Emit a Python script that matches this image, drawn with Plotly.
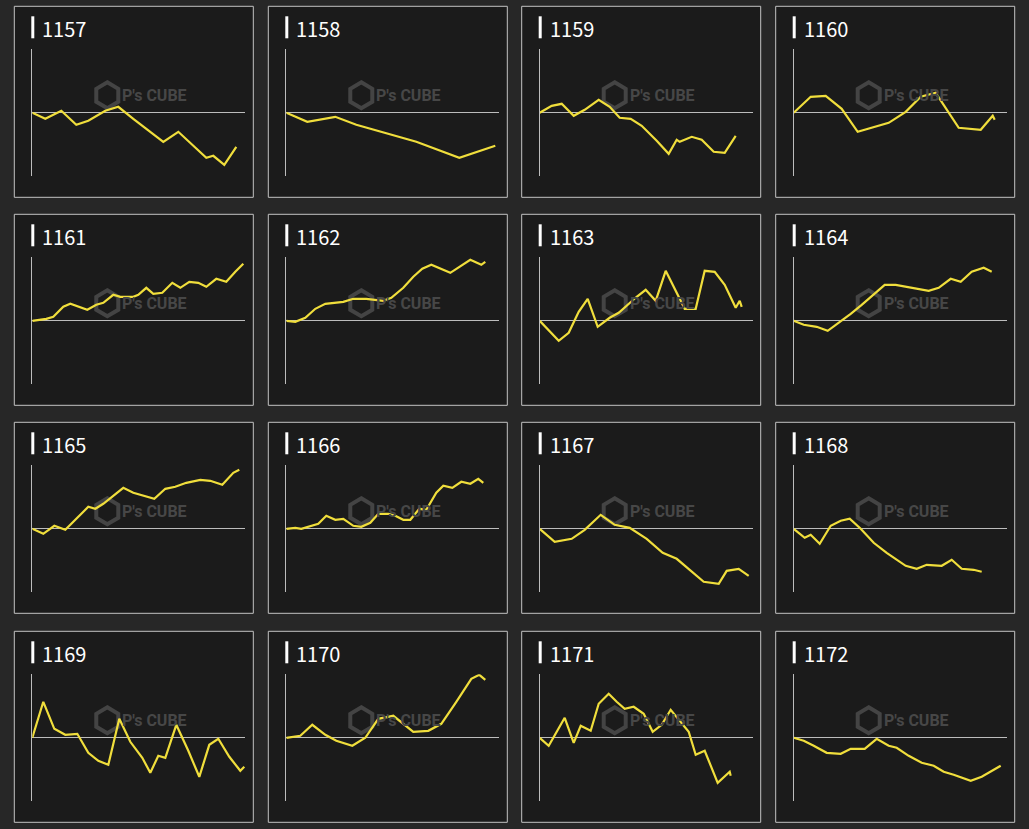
import plotly.graph_objects as go

W, H = 1029, 829

titles = ["1157", "1158", "1159", "1160", "1161", "1162", "1163", "1164",
          "1165", "1166", "1167", "1168", "1169", "1170", "1171", "1172"]

# x: progress along the period, y: difference from start
x1157 = [0, 13, 29, 44, 56, 73, 86, 101, 131, 146, 174, 181, 192, 204]
y1157 = [0, -6, 2, -12, -8, 2, 6, -6, -29, -19, -45, -43, -52, -34]
x1158 = [0, 21, 49, 70, 130, 173, 209]
y1158 = [0, -9, -4, -12, -29, -45, -33]
x1159 = [0, 12, 22, 34, 45, 59, 70, 80, 91, 102, 117, 129, 137, 140, 152, 162, 174, 185, 196]
y1159 = [0, 7, 9, -3, 3, 13, 6, -5, -6, -13, -28, -41, -27, -29, -24, -27, -39, -40, -23]
x1160 = [0, 17, 32, 48, 64, 80, 95, 112, 127, 142, 165, 187, 199, 201]
y1160 = [0, 16, 17, 4, -19, -14, -10, 1, 16, 20, -15, -17, -3, -7]
x1161 = [0, 14, 21, 31, 38, 55, 64, 71, 81, 88, 101, 106, 114, 121, 130, 140, 148, 157, 166, 174, 184, 194, 203, 211]
y1161 = [0, 2, 4, 14, 17, 11, 16, 18, 26, 24, 24, 26, 33, 27, 28, 38, 33, 39, 38, 34, 42, 39, 49, 57]
x1162 = [0, 9, 19, 29, 39, 57, 67, 80, 97, 105, 117, 127, 136, 145, 164, 184, 195, 199]
y1162 = [0, -1, 3, 12, 17, 19, 22, 22, 20, 23, 33, 44, 52, 56, 48, 61, 56, 59]
x1163 = [0, 19, 29, 39, 48, 58, 70, 79, 97, 106, 116, 126, 145, 156, 165, 175, 185, 196, 200, 202]
y1163 = [0, -20, -12, 9, 22, -6, 3, 8, 24, 31, 20, 50, 12, 12, 50, 49, 36, 13, 20, 14]
x1164 = [0, 10, 23, 34, 57, 68, 91, 102, 135, 145, 157, 167, 178, 190, 198]
y1164 = [0, -4, -6, -10, 7, 16, 36, 36, 30, 33, 42, 39, 49, 53, 49]
x1165 = [0, 11, 22, 33, 56, 63, 71, 91, 101, 122, 133, 143, 154, 168, 178, 190, 201, 207]
y1165 = [0, -5, 3, -1, 22, 20, 25, 41, 36, 30, 40, 42, 46, 49, 48, 44, 56, 59]
x1166 = [0, 9, 15, 32, 40, 49, 57, 67, 75, 84, 92, 102, 109, 117, 124, 133, 140, 150, 157, 166, 175, 184, 192, 197]
y1166 = [0, 1, 0, 5, 13, 9, 10, 3, 2, 6, 15, 15, 13, 9, 9, 20, 19, 36, 43, 41, 47, 45, 50, 46]
x1167 = [0, 15, 32, 45, 61, 75, 90, 107, 123, 137, 164, 179, 187, 199, 209]
y1167 = [0, -13, -10, -1, 14, 4, 1, -10, -24, -30, -53, -55, -42, -40, -47]
x1168 = [0, 11, 17, 26, 37, 47, 56, 67, 80, 93, 112, 123, 133, 148, 158, 168, 180, 188]
y1168 = [0, -9, -6, -15, 3, 8, 10, 0, -14, -24, -37, -40, -36, -37, -31, -40, -41, -43]
x1169 = [0, 11, 22, 33, 45, 56, 66, 76, 87, 98, 110, 118, 126, 133, 144, 156, 167, 177, 186, 197, 208, 212]
y1169 = [0, 36, 9, 3, 4, -15, -23, -27, 19, -4, -20, -35, -18, -20, 13, -13, -39, -7, -1, -19, -33, -29]
x1170 = [0, 14, 26, 39, 50, 66, 79, 92, 107, 127, 142, 155, 170, 185, 193, 199]
y1170 = [0, 2, 13, 3, -3, -8, 0, 19, 22, 6, 7, 14, 36, 59, 63, 58]
x1171 = [0, 9, 25, 34, 41, 51, 59, 69, 77, 85, 94, 104, 113, 122, 131, 149, 156, 165, 178, 190, 191]
y1171 = [0, -8, 20, -5, 12, 7, 34, 44, 36, 29, 31, 24, 6, 13, 28, 6, -17, -13, -45, -34, -38]
x1172 = [0, 10, 20, 33, 47, 57, 71, 83, 95, 103, 115, 128, 140, 150, 160, 177, 188, 200, 207]
y1172 = [0, -3, -8, -15, -16, -11, -11, -1, -8, -10, -18, -25, -28, -34, -37, -43, -39, -32, -28]

xs = [x1157, x1158, x1159, x1160, x1161, x1162, x1163, x1164,
      x1165, x1166, x1167, x1168, x1169, x1170, x1171, x1172]
ys = [y1157, y1158, y1159, y1160, y1161, y1162, y1163, y1164,
      y1165, y1166, y1167, y1168, y1169, y1170, y1171, y1172]

col_left = [14.3, 268.3, 521.7, 775.7]
row_top = [6.3, 214.3, 422.3, 631.3]
pw, ph = 239, 191


def px(x):
    return x / W


def py(y):
    return 1 - y / H


fig = go.Figure()
shapes = []
annotations = []
layout_axes = {}

for i, t in enumerate(titles):
    r, c = divmod(i, 4)
    L, T = col_left[c], row_top[r]
    n = "" if i == 0 else str(i + 1)

    # panel box
    shapes.append(dict(type="rect", xref="paper", yref="paper", layer="below",
                       x0=px(L), x1=px(L + pw), y0=py(T + ph), y1=py(T),
                       fillcolor="#1b1b1b", line=dict(color="#c4c4c4", width=1)))
    # title marker bar
    shapes.append(dict(type="rect", xref="paper", yref="paper",
                       x0=px(L + 17), x1=px(L + 20), y0=py(T + 32), y1=py(T + 10),
                       fillcolor="white", line=dict(width=0)))
    annotations.append(dict(text=t, xref="paper", yref="paper", x=px(L + 26), y=py(T + 22),
                            xanchor="left", yanchor="middle", showarrow=False,
                            font=dict(family="Noto Sans CJK JP", size=20, color="white")))
    # watermark
    hx, hy = L + 93, T + 89
    hexpath = "M {} {} L {} {} L {} {} L {} {} L {} {} L {} {} Z".format(
        px(hx), py(hy - 13), px(hx + 11), py(hy - 6.5), px(hx + 11), py(hy + 6.5),
        px(hx), py(hy + 13), px(hx - 11), py(hy + 6.5), px(hx - 11), py(hy - 6.5))
    shapes.append(dict(type="path", xref="paper", yref="paper", layer="below", path=hexpath,
                       fillcolor="rgba(0,0,0,0)", line=dict(color="#444", width=4)))
    annotations.append(dict(text="<b>P's CUBE</b>", xref="paper", yref="paper",
                            x=px(hx + 13), y=py(hy), xanchor="left", yanchor="middle",
                            showarrow=False,
                            font=dict(family="Roboto", size=16, color="#474747")))

    fig.add_trace(go.Scatter(x=xs[i], y=ys[i], mode="lines", xaxis="x" + n, yaxis="y" + n,
                             line=dict(color="#f0de3c", width=2.2), showlegend=False,
                             hoverinfo="skip"))
    layout_axes["xaxis" + n] = dict(domain=[px(L + 18), px(L + 231)], range=[0, 213],
                                    visible=False, anchor="y" + n)
    layout_axes["yaxis" + n] = dict(domain=[py(T + 170), py(T + 43)], range=[-63.5, 63.5],
                                    anchor="x" + n, showgrid=False, showticklabels=False,
                                    ticks="", showline=True, linecolor="#bdbdbd", linewidth=1,
                                    zeroline=True, zerolinecolor="#bdbdbd", zerolinewidth=1)

fig.update_layout(
    width=W,
    height=H,
    margin=dict(l=0, r=0, t=0, b=0),
    paper_bgcolor="#272727",
    plot_bgcolor="rgba(0,0,0,0)",
    shapes=shapes,
    annotations=annotations,
    **layout_axes,
)

fig.write_html("out.html", config={"displayModeBar": False},
               post_script="document.body.style.margin='0';document.body.style.background='#272727';")
